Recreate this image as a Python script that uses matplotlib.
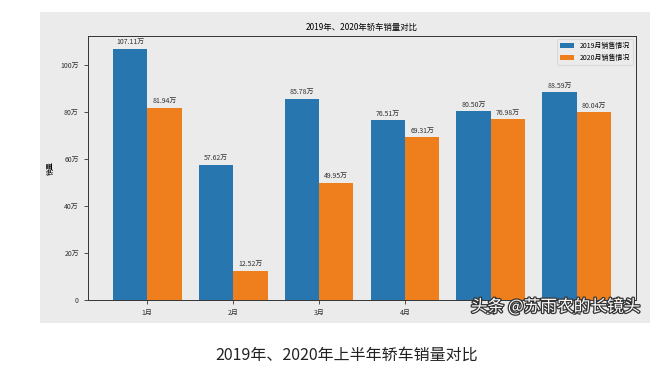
import numpy as np
import matplotlib
matplotlib.use("Agg")
import matplotlib.pyplot as plt
import matplotlib.patheffects as pe
from matplotlib.patches import Rectangle
from matplotlib.ticker import FuncFormatter

plt.rcParams['font.family'] = ['Noto Sans CJK SC', 'DejaVu Sans']

# 数据
months = ['1月', '2月', '3月', '4月', '5月', '6月']
sales_2019 = [107.11, 57.62, 85.78, 76.51, 80.50, 88.59]
sales_2020 = [81.94, 12.52, 49.95, 69.31, 76.98, 80.04]
labels = ['2019月销售情况', '2020月销售情况']

gray = '#ebebeb'
fig = plt.figure(figsize=(6.72, 3.88), dpi=100, facecolor='white')

# 灰色底板（截图里的图像区域）
fig.patches.append(Rectangle((40 / 672, 1 - 323 / 388), 610 / 672, 311 / 388,
                             transform=fig.transFigure, facecolor=gray,
                             edgecolor='none', zorder=-1))

ax = fig.add_axes([88 / 672, 1 - 300 / 388, 548 / 672, 264 / 388])
ax.set_facecolor(gray)

x = np.arange(len(months))
w = 0.4
b1 = ax.bar(x - w / 2, sales_2019, w, label=labels[0], color='#2776b0')
b2 = ax.bar(x + w / 2, sales_2020, w, label=labels[1], color='#ef7f1c')

for bars in (b1, b2):
    for r in bars:
        h = r.get_height()
        ax.text(r.get_x() + r.get_width() / 2, h + 1, f'{h:.2f}万',
                ha='center', va='bottom', fontsize=5, color='#333333')

ax.set_xticks(x)
ax.set_xticklabels(months, fontsize=5)
ax.yaxis.set_major_formatter(FuncFormatter(lambda v, p: '0' if v == 0 else f'{int(v)}万'))
ax.tick_params(axis='y', labelsize=5)
ax.tick_params(length=3, width=0.6, colors='#333333')
ax.set_ylabel('销量', fontsize=5)
ax.set_title('2019年、2020年轿车销量对比', fontsize=6, pad=4)
for s in ax.spines.values():
    s.set_linewidth(0.7)
    s.set_color('#333333')
leg = ax.legend(loc='upper right', fontsize=5, frameon=True, facecolor=gray)
leg.get_frame().set_linewidth(0.5)

# 图片下方说明文字
fig.text(347 / 672, 1 - 355 / 388, '2019年、2020年上半年轿车销量对比',
         ha='center', va='center', fontsize=11.5, color='#222222')

# 水印
fig.text(640 / 672, 1 - 307 / 388, '头条 @苏雨农的长镜头', ha='right', va='center',
         fontsize=12, color='white', zorder=5,
         path_effects=[pe.withStroke(linewidth=1.8, foreground='#333333')])

fig.savefig('out.png', dpi=100, facecolor='white')
